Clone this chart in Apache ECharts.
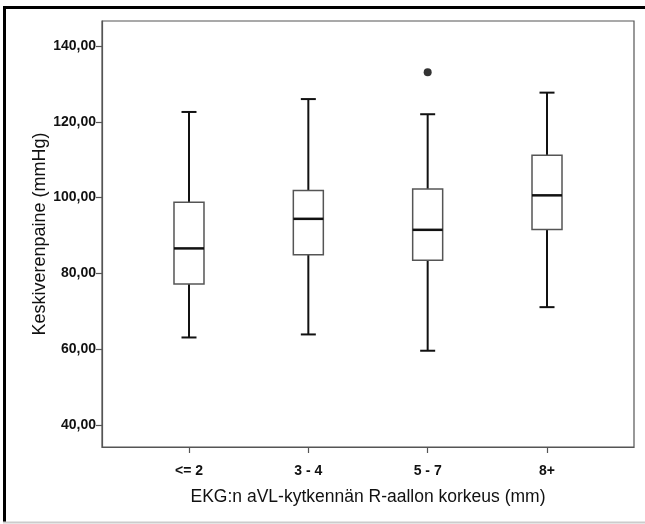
<!DOCTYPE html>
<html>
<head>
<meta charset="utf-8">
<script src="https://cdn.jsdelivr.net/npm/echarts@6/dist/echarts.min.js"></script>
<style>
html,body{margin:0;padding:0;background:#fff;}
#chart{width:645px;height:524px;}
</style>
</head>
<body>
<div id="chart"></div>
<script>
// Data
const categories = ['<= 2', '3 - 4', '5 - 7', '8+'];
const whiskerLow = [63.1, 63.9, 59.6, 71.1];
const q1 = [77.2, 84.9, 83.5, 91.6];
const median = [86.6, 94.4, 91.5, 100.6];
const q3 = [98.8, 101.9, 102.3, 111.2];
const whiskerHigh = [122.6, 126.0, 122.0, 127.7];
const outlierCategory = [3];
const outlierValue = [133.1];
const yTicks = [40, 60, 80, 100, 120, 140];

const boxData = categories.map((c, i) => [i + 1, whiskerLow[i], q1[i], median[i], q3[i], whiskerHigh[i]]);
const outData = outlierCategory.map((c, i) => [c, outlierValue[i]]);

const chart = echarts.init(document.getElementById('chart'), null, {renderer: 'canvas'});

function renderBox(params, api) {
  const x = api.value(0);
  const lo = api.coord([x, api.value(1)]);
  const b1 = api.coord([x, api.value(2)]);
  const md = api.coord([x, api.value(3)]);
  const b3 = api.coord([x, api.value(4)]);
  const hi = api.coord([x, api.value(5)]);
  const halfBox = 15;
  const halfCap = 7.5;
  const cx = lo[0];
  return {
    type: 'group',
    children: [
      {type: 'line', shape: {x1: cx, y1: b3[1], x2: cx, y2: hi[1]}, style: {stroke: '#111', lineWidth: 2}},
      {type: 'line', shape: {x1: cx, y1: b1[1], x2: cx, y2: lo[1]}, style: {stroke: '#111', lineWidth: 2}},
      {type: 'line', shape: {x1: cx - halfCap, y1: hi[1], x2: cx + halfCap, y2: hi[1]}, style: {stroke: '#111', lineWidth: 2}},
      {type: 'line', shape: {x1: cx - halfCap, y1: lo[1], x2: cx + halfCap, y2: lo[1]}, style: {stroke: '#111', lineWidth: 2}},
      {type: 'rect', shape: {x: cx - halfBox, y: b3[1], width: 2 * halfBox, height: b1[1] - b3[1]}, style: {fill: '#fff', stroke: '#555', lineWidth: 1.5}},
      {type: 'line', shape: {x1: cx - halfBox, y1: md[1], x2: cx + halfBox, y2: md[1]}, style: {stroke: '#111', lineWidth: 2.5}}
    ]
  };
}

const labelFont = "'Liberation Sans', Arial";

const option = {
  backgroundColor: '#fff',
  animation: false,
  graphic: [
    {type: 'line', shape: {x1: 3, y1: 7.5, x2: 645, y2: 7.5}, style: {stroke: '#000', lineWidth: 3}},
    {type: 'line', shape: {x1: 4.5, y1: 6, x2: 4.5, y2: 522}, style: {stroke: '#000', lineWidth: 3}},
    {type: 'line', shape: {x1: 3, y1: 522.5, x2: 645, y2: 522.5}, style: {stroke: '#ccc', lineWidth: 2}}
  ],
  grid: {
    left: 102, right: 11, top: 21, bottom: 77,
    show: true, borderColor: '#555', borderWidth: 1.2, backgroundColor: '#fff'
  },
  xAxis: {
    type: 'value',
    min: 0.271, max: 4.729,
    name: 'EKG:n aVL-kytkennän R-aallon korkeus (mm)',
    nameLocation: 'middle',
    nameGap: 41,
    nameTextStyle: {fontFamily: 'Liberation Sans, Arial', fontSize: 17.5, color: '#111'},
    splitLine: {show: false},
    axisLine: {show: true, lineStyle: {color: '#555', width: 1.2}},
    axisTick: {show: true, customValues: [1, 2, 3, 4], length: 6, lineStyle: {color: '#555', width: 1.2}},
    axisLabel: {
      customValues: [1, 2, 3, 4],
      formatter: v => categories[Math.round(v) - 1] || '',
      fontFamily: labelFont, fontWeight: 'bold', fontSize: 14, color: '#111', margin: 17
    }
  },
  yAxis: {
    type: 'value',
    min: 34.2, max: 146.6,
    name: 'Keskiverenpaine (mmHg)',
    nameLocation: 'middle',
    nameGap: 53,
    nameMoveOverlap: false,
    nameTextStyle: {fontFamily: 'Liberation Sans, Arial', fontSize: 18, color: '#111'},
    splitLine: {show: false},
    axisLine: {show: true, lineStyle: {color: '#555', width: 1.2}},
    axisTick: {show: true, customValues: yTicks, length: 6, lineStyle: {color: '#555', width: 1.2}},
    axisLabel: {
      customValues: yTicks,
      formatter: v => v.toFixed(2).replace('.', ','),
      fontFamily: labelFont, fontWeight: 'bold', fontSize: 14, color: '#111', margin: 6
    }
  },
  series: [
    {
      type: 'custom',
      renderItem: renderBox,
      data: boxData,
      encode: {x: 0, y: [1, 2, 3, 4, 5]},
      z: 2
    },
    {
      type: 'scatter',
      data: outData,
      symbol: 'circle',
      symbolSize: 8,
      itemStyle: {color: '#000'},
      z: 3
    }
  ]
};
chart.setOption(option);
</script>
</body>
</html>
